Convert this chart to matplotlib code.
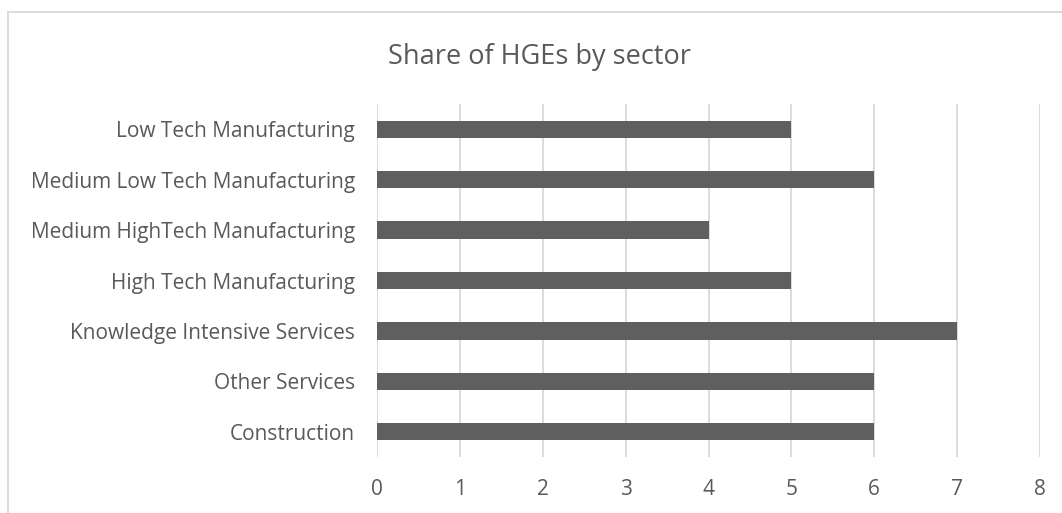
import matplotlib
matplotlib.use("Agg")
import matplotlib.pyplot as plt
from matplotlib.lines import Line2D

sectors = [
    "Construction",
    "Other Services",
    "Knowledge Intensive Services",
    "High Tech Manufacturing",
    "Medium HighTech Manufacturing",
    "Medium Low Tech Manufacturing",
    "Low Tech Manufacturing",
]
shares = [6, 6, 7, 5, 4, 6, 5]
x_ticks = [0, 1, 2, 3, 4, 5, 6, 7, 8]

text_color = "#595959"
bar_color = "#5f5f5f"
grid_color = "#d9d9d9"

plt.rcParams["font.family"] = ["Open Sans", "DejaVu Sans"]

W, H = 1062, 513
fig = plt.figure(figsize=(W / 100, H / 100), dpi=100)
ax = fig.add_axes([377 / W, 1 - 457 / H, (1040 - 377) / W, (457 - 104) / H])

ax.barh(range(len(sectors)), shares, height=0.34, color=bar_color, zorder=3)
ax.set_xlim(0, 8)
ax.set_ylim(-0.5, len(sectors) - 0.5)
ax.set_xticks(x_ticks)
ax.set_xticklabels([str(t) for t in x_ticks])
ax.set_yticks(range(len(sectors)))
ax.set_yticklabels(sectors)

ax.grid(axis="x", color=grid_color, linewidth=1.3, zorder=0)
ax.grid(axis="y", visible=False)
for side in ["top", "right", "bottom", "left"]:
    ax.spines[side].set_visible(False)
ax.tick_params(axis="both", length=0, colors=text_color, labelsize=15)
ax.tick_params(axis="x", pad=16)
ax.tick_params(axis="y", pad=16)

fig.text(540 / W, 1 - 64 / H, "Share of HGEs by sector", ha="center", va="baseline",
         fontsize=19.5, color=text_color)

# chart frame
fig.add_artist(Line2D([7.5 / W, 7.5 / W], [0, 1 - 12 / H], transform=fig.transFigure,
                      color=grid_color, linewidth=1.3))
fig.add_artist(Line2D([7.5 / W, 1], [1 - 12 / H, 1 - 12 / H], transform=fig.transFigure,
                      color=grid_color, linewidth=1.3))

fig.savefig("out.png", dpi=100, facecolor="white")
